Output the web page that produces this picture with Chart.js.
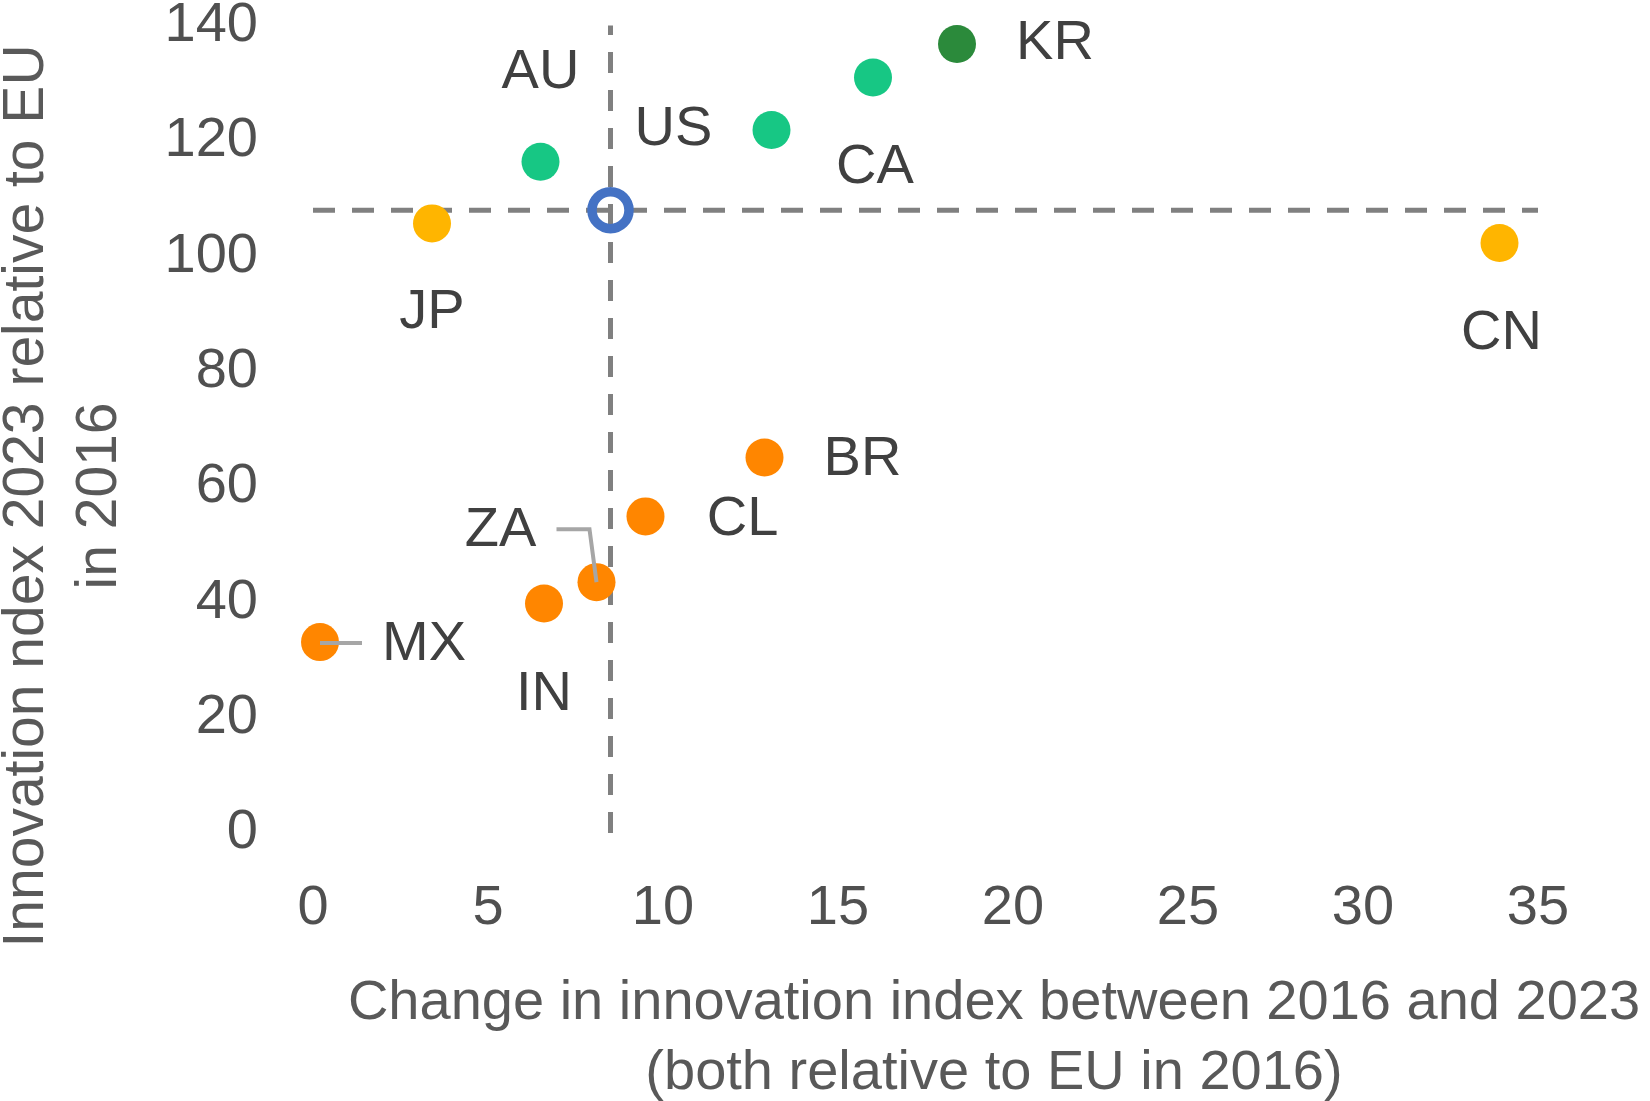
<!DOCTYPE html>
<html>
<head>
<meta charset="utf-8">
<script src="https://cdn.jsdelivr.net/npm/chart.js@4.4.1/dist/chart.umd.min.js"></script>
<style>
  html, body { margin: 0; padding: 0; background: #fff; overflow: hidden; }
  /* canvas is 8px taller and pulled up so the 140 tick sits at the very top like the original */
  #myChart { display: block; margin-top: -8px; }
</style>
</head>
<body>
<canvas id="myChart" width="1650" height="1109"></canvas>
<script>
const countries = ['KR', 'CA', 'US', 'AU', 'JP', 'CN', 'BR', 'CL', 'ZA', 'IN', 'MX'];
const changeValues = [18.4, 16.0, 13.1, 6.5, 3.4, 33.9, 12.9, 9.5, 8.1, 6.6, 0.2];
const levelValues = [136.8, 131.0, 121.9, 116.4, 105.7, 102.3, 65.1, 54.9, 43.5, 39.8, 33.1];
const groups = ['leader', 'strong', 'strong', 'strong', 'moderate', 'moderate',
                'emerging', 'emerging', 'emerging', 'emerging', 'emerging'];
const euChange = 8.5;
const euLevel = 108.0;
const xTicks = [0, 5, 10, 15, 20, 25, 30, 35];
const yTicks = [0, 20, 40, 60, 80, 100, 120, 140];

const groupColors = {
    leader: '#2b8a3b',
    strong: '#17c784',
    moderate: '#ffb500',
    emerging: '#ff8600'
};

// where each country label sits relative to its dot (px)
const labelOffsets = {
    KR: [98, 0], CA: [2, 90], US: [-98, 0], AU: [0, -89], JP: [0, 89], CN: [2, 91],
    BR: [98, 2], CL: [97, 3], ZA: [-96, -52], IN: [0, 91], MX: [104, 2]
};

const SHIFT = 8; // canvas offset above the page top

Chart.defaults.font.family = '"Liberation Sans", Arial, sans-serif';

const countryLabels = {
    id: 'countryLabels',
    afterDatasetsDraw(chart) {
        const ctx = chart.ctx;
        const pts = chart.getDatasetMeta(0).data;
        ctx.save();
        // leader lines
        ctx.strokeStyle = '#a6a6a6';
        ctx.lineWidth = 4;
        const za = pts[countries.indexOf('ZA')];
        ctx.beginPath();
        ctx.moveTo(za.x - 40, za.y - 53);
        ctx.lineTo(za.x - 7, za.y - 53);
        ctx.lineTo(za.x, za.y);
        ctx.stroke();
        const mx = pts[countries.indexOf('MX')];
        ctx.beginPath();
        ctx.moveTo(mx.x, mx.y + 1);
        ctx.lineTo(mx.x + 42, mx.y + 1);
        ctx.stroke();

        ctx.font = '56px "Liberation Sans", Arial, sans-serif';
        ctx.fillStyle = '#404040';
        ctx.textAlign = 'center';
        ctx.textBaseline = 'middle';
        countries.forEach((c, i) => {
            const off = labelOffsets[c];
            ctx.fillText(c, pts[i].x + off[0], pts[i].y + off[1]);
        });

        // axis titles
        ctx.fillStyle = '#595959';
        ctx.fillText('Change in innovation index between 2016 and 2023', 994, 1004 + SHIFT);
        ctx.fillText('(both relative to EU in 2016)', 994, 1074 + SHIFT);
        ctx.font = '57px "Liberation Sans", Arial, sans-serif';
        ctx.translate(27, 496 + SHIFT);
        ctx.rotate(-Math.PI / 2);
        ctx.fillText('Innovation ndex 2023 relative to EU', 0, 0);
        ctx.fillText('in 2016', 0, 73);
        ctx.restore();
    }
};

const ctx = document.getElementById('myChart').getContext('2d');
new Chart(ctx, {
    type: 'scatter',
    data: {
        datasets: [
            {
                label: 'Countries',
                data: countries.map((c, i) => ({ x: changeValues[i], y: levelValues[i] })),
                pointRadius: 19,
                pointHoverRadius: 19,
                pointBorderWidth: 0,
                pointBackgroundColor: groups.map(g => groupColors[g]),
                clip: false
            },
            {
                label: 'EU',
                data: [{ x: euChange, y: euLevel }],
                pointRadius: 18.5,
                pointBorderWidth: 9.5,
                pointBorderColor: '#4472c4',
                pointBackgroundColor: 'rgba(0,0,0,0)',
                clip: false
            },
            {
                label: 'EU level',
                data: [{ x: 0, y: euLevel }, { x: 35, y: euLevel }],
                showLine: true,
                pointRadius: 0,
                borderColor: '#808080',
                borderWidth: 5,
                borderDash: [22, 17],
                clip: false
            },
            {
                label: 'EU change',
                data: [{ x: euChange, y: 0 }, { x: euChange, y: 140 }],
                showLine: true,
                pointRadius: 0,
                borderColor: '#808080',
                borderWidth: 5,
                borderDash: [21, 17],
                clip: false
            }
        ]
    },
    options: {
        responsive: false,
        animation: false,
        layout: { padding: { left: 0, top: 0, right: 112, bottom: 0 } },
        scales: {
            x: {
                type: 'linear',
                min: 0,
                max: 35,
                afterBuildTicks: scale => { scale.ticks = xTicks.map(v => ({ value: v })); },
                afterFit: scale => { scale.height = 268; },
                grid: { display: false, drawTicks: true, tickLength: 42 },
                border: { display: false },
                ticks: { padding: 0, color: '#505050', font: { size: 56 }, maxRotation: 0 }
            },
            y: {
                type: 'linear',
                min: 0,
                max: 140,
                afterBuildTicks: scale => { scale.ticks = yTicks.map(v => ({ value: v })); },
                afterFit: scale => { scale.width = 313; },
                grid: { display: false, drawTicks: true, tickLength: 55 },
                border: { display: false },
                ticks: { padding: 0, color: '#505050', font: { size: 56 } }
            }
        },
        plugins: {
            legend: { display: false },
            tooltip: { enabled: false }
        }
    },
    plugins: [countryLabels]
});
</script>
</body>
</html>
